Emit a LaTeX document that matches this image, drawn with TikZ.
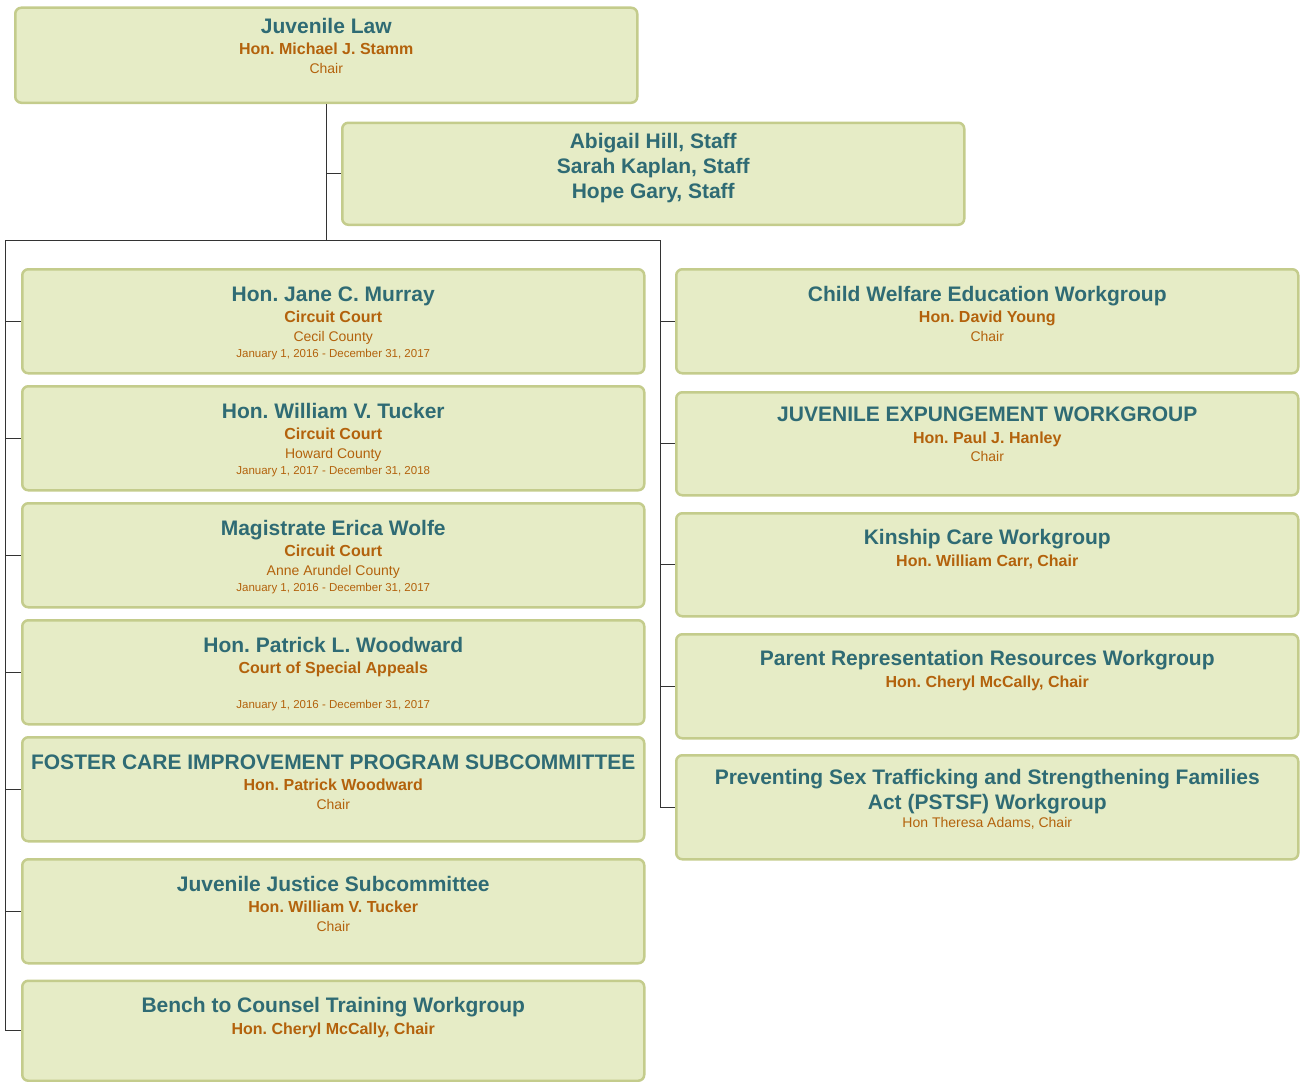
\documentclass[tikz,border=0pt]{standalone}
\usepackage{fontspec}
\setmainfont{Liberation Sans}
\frenchspacing
\definecolor{boxfill}{HTML}{E6ECC6}
\definecolor{boxline}{HTML}{C4CC8C}
\definecolor{ttlteal}{HTML}{2F6B74}
\definecolor{subbrown}{HTML}{B3620C}
\newcommand{\ttlline}[1]{{\fontsize{21}{25}\selectfont\bfseries\leavevmode\color{ttlteal}\rule{0pt}{15.5pt}#1\par}}
\newcommand{\nameline}[1]{{\fontsize{16}{21.5}\selectfont\bfseries\leavevmode\color{subbrown}#1\par}}
\newcommand{\roleline}[1]{{\fontsize{14}{18.5}\selectfont\leavevmode\color{subbrown}#1\par}}
\newcommand{\dateline}[1]{{\fontsize{11.5}{16}\selectfont\leavevmode\color{subbrown}#1\par}}
\newcommand{\boxbody}[3]{\parbox[c][#1][t]{615pt}{\centering\vspace*{#2}#3}}
\tikzset{
  orgbox/.style={draw=boxline, fill=boxfill, line width=2.5pt, rounded corners=6pt,
    inner sep=0pt, minimum width=622pt, anchor=north west},
  link/.style={draw=black!80, line width=1pt}
}
\begin{document}
\begin{tikzpicture}[x=1pt, y=-1pt]
\useasboundingbox (0,0) rectangle (1308,1081);

\node[orgbox] (law) at (14,6.5) {\boxbody{95pt}{10pt}{\ttlline{Juvenile Law}\nameline{Hon. Michael J. Stamm}\roleline{Chair}}};
\node[orgbox] (staff) at (341,121.5) {\boxbody{102pt}{10pt}{\ttlline{Abigail Hill, Staff}\ttlline{Sarah Kaplan, Staff}\ttlline{Hope Gary, Staff}}};

\node[orgbox] (murray) at (21,268) {\boxbody{104pt}{16.5pt}{\ttlline{Hon. Jane C. Murray}\nameline{Circuit Court}\roleline{Cecil County}\dateline{January 1, 2016 - December 31, 2017}}};
\node[orgbox] (tucker) at (21,385) {\boxbody{104pt}{16.5pt}{\ttlline{Hon. William V. Tucker}\nameline{Circuit Court}\roleline{Howard County}\dateline{January 1, 2017 - December 31, 2018}}};
\node[orgbox] (wolfe) at (21,502) {\boxbody{104pt}{16.5pt}{\ttlline{Magistrate Erica Wolfe}\nameline{Circuit Court}\roleline{Anne Arundel County}\dateline{January 1, 2016 - December 31, 2017}}};
\node[orgbox] (woodward) at (21,619) {\boxbody{104pt}{16.5pt}{\ttlline{Hon. Patrick L. Woodward}\nameline{Court of Special Appeals}\roleline{\strut}\dateline{January 1, 2016 - December 31, 2017}}};
\node[orgbox] (foster) at (21,736) {\boxbody{104pt}{16.5pt}{\ttlline{FOSTER CARE IMPROVEMENT PROGRAM SUBCOMMITTEE}\nameline{Hon. Patrick Woodward}\roleline{Chair}}};
\node[orgbox] (justice) at (21,858) {\boxbody{104pt}{16.5pt}{\ttlline{Juvenile Justice Subcommittee}\nameline{Hon. William V. Tucker}\roleline{Chair}}};
\node[orgbox] (bench) at (21,979.5) {\boxbody{100pt}{16.5pt}{\ttlline{Bench to Counsel Training Workgroup}\nameline{Hon. Cheryl McCally, Chair}}};

\node[orgbox] (welfare) at (675,268) {\boxbody{104pt}{16.5pt}{\ttlline{Child Welfare Education Workgroup}\nameline{Hon. David Young}\roleline{Chair}}};
\node[orgbox] (expunge) at (675,391) {\boxbody{103pt}{14pt}{\ttlline{JUVENILE EXPUNGEMENT WORKGROUP}\nameline{Hon. Paul J. Hanley}\roleline{Chair}}};
\node[orgbox] (kinship) at (675,512) {\boxbody{103pt}{16pt}{\ttlline{Kinship Care Workgroup}\nameline{Hon. William Carr, Chair}}};
\node[orgbox] (parent) at (675,633) {\boxbody{104pt}{16pt}{\ttlline{Parent Representation Resources Workgroup}\nameline{Hon. Cheryl McCally, Chair}}};
\node[orgbox] (pstsf) at (675,754) {\boxbody{104pt}{13.5pt}{\ttlline{Preventing Sex Trafficking and Strengthening Families}\ttlline{Act (PSTSF) Workgroup}\roleline{Hon Theresa Adams, Chair}}};

\coordinate (busl) at (5,240);
\coordinate (busr) at (660,240);
\draw[link] (law.south) -- (law.south |- busl);
\draw[link] (law.south |- staff.west) -- (staff.west);
\draw[link] (busl) -- (busr);
\foreach \n in {murray,tucker,wolfe,woodward,foster,justice,bench}
  \draw[link] (busl) |- (\n.west);
\foreach \n in {welfare,expunge,kinship,parent,pstsf}
  \draw[link] (busr) |- (\n.west);
\end{tikzpicture}
\end{document}
